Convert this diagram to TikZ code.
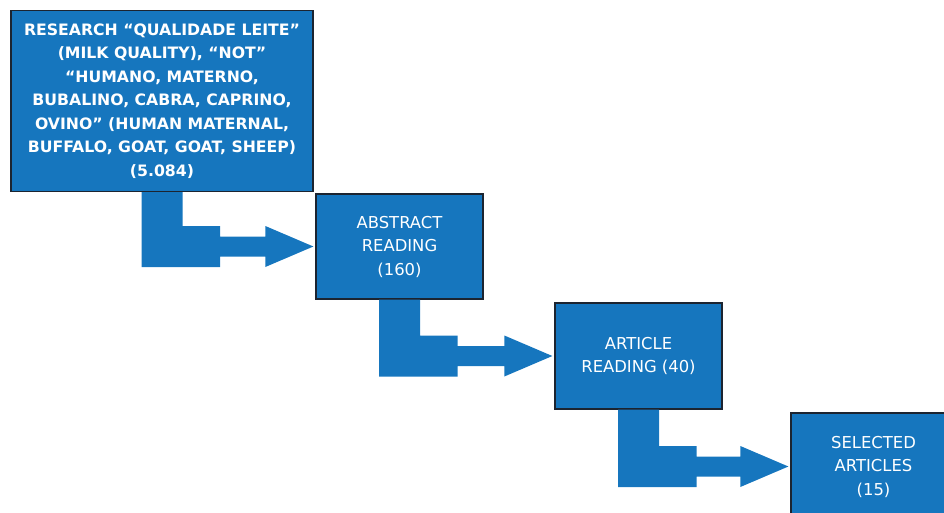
\documentclass[tikz,border=0pt]{standalone}
\usepackage{fontspec}
\setmainfont{DejaVu Sans}
\usetikzlibrary{calc}
\definecolor{boxblue}{RGB}{22,118,190}
\definecolor{boxline}{RGB}{28,36,48}
\tikzset{
  stagebox/.style={draw=boxline, line width=1.3pt, fill=boxblue, text=white,
    align=center, inner sep=0pt, font=\fontsize{16.4}{23.5}\selectfont},
  arrowfill/.style={fill=boxblue}
}
\newcommand\bentarrow[2]{%
  \fill[arrowfill] let \p1=(#1.south), \p2=(#2.west) in
    (\x1-20.5pt,\y1) -- (\x1+20.5pt,\y1) -- (\x1+20.5pt,\y2+20.5pt)
    -- (\x1+58pt,\y2+20.5pt) -- (\x1+58pt,\y2+10pt) -- (\x2-50pt,\y2+10pt)
    -- (\x2-50pt,\y2+20.5pt) -- (\x2-2pt,\y2) -- (\x2-50pt,\y2-20.5pt)
    -- (\x2-50pt,\y2-10pt) -- (\x1+58pt,\y2-10pt) -- (\x1+58pt,\y2-20.5pt)
    -- (\x1-20.5pt,\y2-20.5pt) -- cycle;}
\begin{document}
\begin{tikzpicture}[x=1pt,y=-1pt]
\useasboundingbox (0,0) rectangle (944,513);
\clip (0,0) rectangle (944,513);
\node[stagebox, minimum width=302pt, minimum height=181pt, font=\fontsize{15.7}{23.5}\selectfont\bfseries] (b1) at (162,101)
  {RESEARCH “QUALIDADE LEITE”\\(MILK QUALITY), “NOT”\\“HUMANO, MATERNO,\\BUBALINO, CABRA, CAPRINO,\\OVINO” (HUMAN MATERNAL,\\BUFFALO, GOAT, GOAT, SHEEP)\\(5.084)};
\node[stagebox, minimum width=167pt, minimum height=105pt] (b2) at (399.5,246.5)
  {ABSTRACT\\READING\\(160)};
\node[stagebox, minimum width=167pt, minimum height=106pt] (b3) at (638.5,356)
  {ARTICLE\\READING (40)};
\node[stagebox, minimum width=165pt, minimum height=107pt] (b4) at (873.5,466.5)
  {SELECTED\\ARTICLES\\(15)};
\bentarrow{b1}{b2}
\bentarrow{b2}{b3}
\bentarrow{b3}{b4}
\end{tikzpicture}
\end{document}
